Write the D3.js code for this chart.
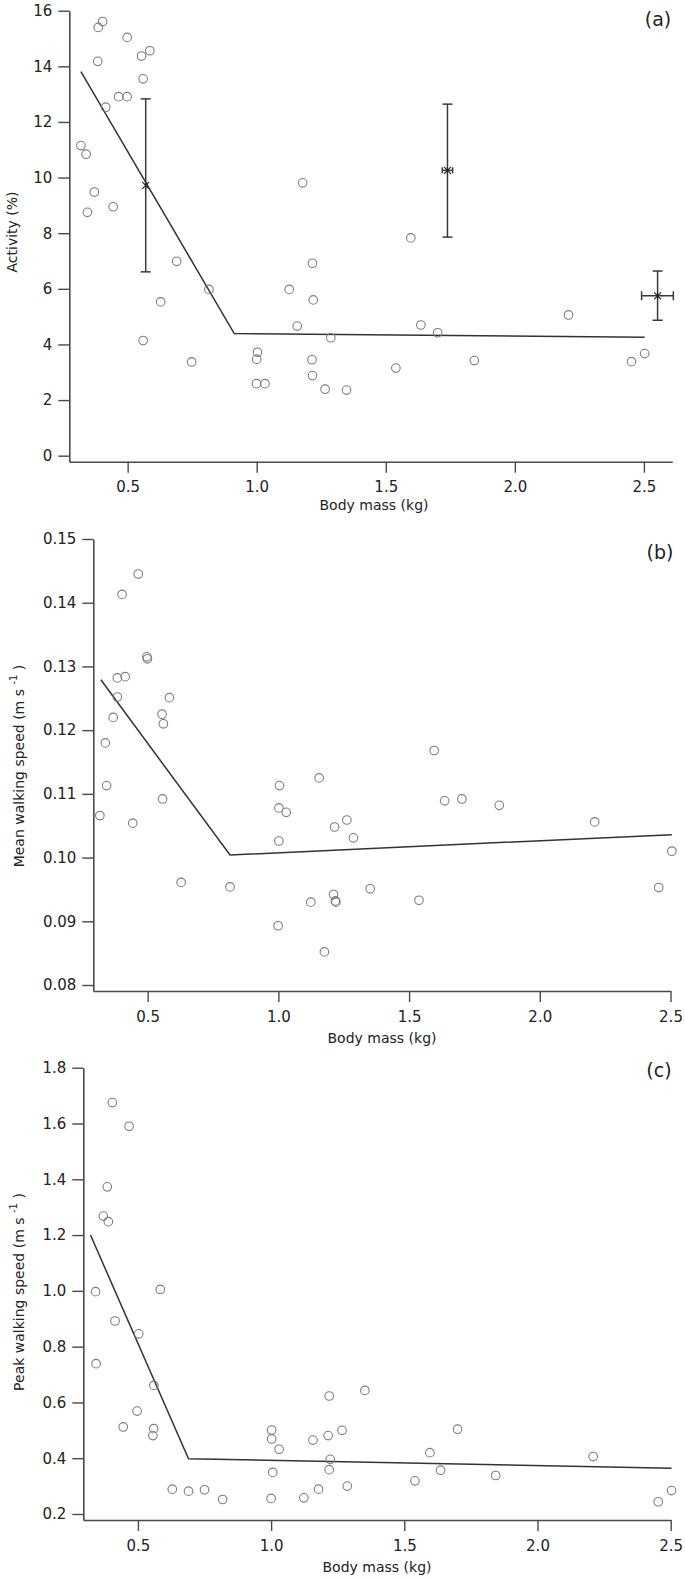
<!DOCTYPE html>
<html><head><meta charset="utf-8">
<script src="https://cdn.jsdelivr.net/npm/d3@7"></script>
<style>
body{margin:0;background:#fff}
svg{display:block}
text{font-family:"DejaVu Sans",Verdana,sans-serif;fill:#222}
</style>
</head><body>
<svg id="chart" width="685" height="1580"></svg>
<script>
// ---------- data ----------
const xTickValues = [0.5, 1.0, 1.5, 2.0, 2.5];
const activityTicks = [0, 2, 4, 6, 8, 10, 12, 14, 16];
const meanSpeedTicks = [0.08, 0.09, 0.10, 0.11, 0.12, 0.13, 0.14, 0.15];
const peakSpeedTicks = [0.2, 0.4, 0.6, 0.8, 1.0, 1.2, 1.4, 1.6, 1.8];

// (a) activity
const activityMass = [0.319,0.339,0.371,0.344,0.444,0.386,0.403,0.384,0.498,0.554,0.586,0.560,0.465,0.498,0.415,1.178,0.690,0.815,0.628,0.560,0.748,1.003,1.000,0.999,1.032,1.126,1.157,1.216,1.219,1.214,1.216,1.265,1.287,1.348,1.597,1.636,1.701,1.539,1.843,2.208,2.452,2.503];
const activityPct  = [11.15,10.84,9.48,8.75,8.95,15.40,15.61,14.18,15.04,14.37,14.56,13.55,12.91,12.91,12.53,9.81,6.99,5.98,5.53,4.14,3.37,3.72,3.47,2.59,2.59,5.98,4.66,6.92,5.60,3.45,2.88,2.39,4.24,2.36,7.83,4.70,4.42,3.15,3.42,5.06,3.38,3.67];
const activityFitMass = [0.319, 0.913, 2.503];
const activityFitVal  = [13.81, 4.39, 4.26];
// summary points with error bars in (a)
const errMass   = [0.570, 1.739, 2.553];
const errMassLo = [0.570, 1.719, 2.491];
const errMassHi = [0.570, 1.759, 2.614];
const errAct    = [9.72, 10.26, 5.75];
const errActLo  = [6.61, 7.86, 4.87];
const errActHi  = [12.83, 12.64, 6.64];

// (b) mean walking speed
const meanMass  = [0.464,0.402,0.497,0.499,0.384,0.414,0.384,0.583,0.368,0.555,0.560,0.338,1.156,0.343,0.317,0.443,0.557,0.628,0.815,1.004,1.002,1.030,1.002,0.999,1.124,1.211,1.218,1.220,1.176,1.215,1.262,1.287,1.351,1.538,1.596,1.636,1.702,1.845,2.210,2.455,2.505];
const meanSpeed = [0.1445,0.1413,0.1315,0.1312,0.1282,0.1284,0.1252,0.1251,0.1220,0.1225,0.1210,0.1180,0.1125,0.1113,0.1066,0.1054,0.1092,0.0961,0.0954,0.1113,0.1078,0.1071,0.1026,0.0893,0.0930,0.0942,0.0932,0.0930,0.0852,0.1048,0.1059,0.1031,0.0951,0.0933,0.1168,0.1089,0.1092,0.1082,0.1056,0.0953,0.1010];
const meanFitMass = [0.321, 0.815, 2.505];
const meanFitVal  = [0.1279, 0.1004, 0.1036];

// (c) peak walking speed
const peakMass  = [0.404,0.467,0.385,0.370,0.389,0.341,0.584,0.414,0.503,0.343,0.560,0.497,0.445,0.559,0.556,0.629,0.690,0.750,0.818,1.002,1.002,1.030,1.006,1.000,1.123,1.178,1.157,1.214,1.218,1.266,1.222,1.218,1.286,1.352,1.700,1.596,1.636,1.843,1.540,2.209,2.503,2.453];
const peakSpeed = [1.675,1.590,1.373,1.268,1.248,0.997,1.005,0.892,0.846,0.739,0.661,0.569,0.512,0.506,0.481,0.289,0.282,0.287,0.252,0.501,0.469,0.432,0.349,0.256,0.258,0.289,0.465,0.481,0.623,0.500,0.396,0.359,0.300,0.643,0.504,0.420,0.357,0.338,0.319,0.406,0.284,0.244];
const peakFitMass = [0.322, 0.690, 2.503];
const peakFitVal  = [1.200, 0.398, 0.364];

// ---------- drawing ----------
const svg = d3.select("#chart");
const AX = "#4a4a4a";

function panel(o) {
  const g = svg.append("g");
  const x = d3.scaleLinear().domain(o.xDomain).range(o.xRange);
  const y = d3.scaleLinear().domain(o.yDomain).range(o.yRange);
  const x0 = o.xRange[0], yb = o.yRange[0];

  const xa = g.append("g").attr("transform", `translate(0,${yb})`)
    .call(d3.axisBottom(x).tickValues(xTickValues).tickFormat(d3.format(".1f"))
      .tickSizeInner(11).tickSizeOuter(0).tickPadding(9));
  const ya = g.append("g").attr("transform", `translate(${x0},0)`)
    .call(d3.axisLeft(y).tickValues(o.yTicks).tickFormat(o.yFmt)
      .tickSizeInner(11).tickSizeOuter(0).tickPadding(6));
  [xa, ya].forEach(a => {
    a.selectAll("path.domain").attr("stroke", AX).attr("stroke-width", 1.6);
    a.selectAll(".tick line").attr("stroke", AX).attr("stroke-width", 1.4);
    a.selectAll(".tick text").style("font-size", "15px").attr("fill", "#222");
  });

  // fit line
  const line = d3.line().x(d => x(d[0])).y(d => y(d[1]));
  g.append("path").datum(d3.zip(o.fitX, o.fitY)).attr("d", line)
    .attr("fill", "none").attr("stroke", "#333").attr("stroke-width", 1.5);

  // points
  g.selectAll("circle.pt").data(d3.zip(o.px, o.py)).join("circle")
    .attr("class", "pt").attr("cx", d => x(d[0])).attr("cy", d => y(d[1]))
    .attr("r", 4.3).attr("fill", "none").attr("stroke", "#7d7d7d").attr("stroke-width", 1.1);

  // labels
  g.append("text").attr("x", o.xTitlePos[0]).attr("y", o.xTitlePos[1])
    .attr("text-anchor", "middle").style("font-size", "14px").text("Body mass (kg)");
  const yt = g.append("text")
    .attr("transform", `translate(${o.yTitlePos[0]},${o.yTitlePos[1]}) rotate(-90)`)
    .attr("text-anchor", "middle").style("font-size", "14px");
  if (o.ySup) {
    yt.append("tspan").text(o.yTitle);
    yt.append("tspan").attr("dy", -7).style("font-size", "10px").text("-1");
    yt.append("tspan").attr("dy", 7).text(" )");
  } else {
    yt.text(o.yTitle);
  }
  g.append("text").attr("x", o.tagPos[0]).attr("y", o.tagPos[1])
    .attr("text-anchor", "middle").style("font-size", "19px").text(o.tag);
  return {g, x, y};
}

// (a)
const pa = panel({
  xDomain: [0.274, 2.61], xRange: [69.3, 672.3],
  yDomain: [-0.216, 16], yRange: [461.7, 10.7],
  yTicks: activityTicks, yFmt: d3.format("d"),
  px: activityMass, py: activityPct, fitX: activityFitMass, fitY: activityFitVal,
  xTitlePos: [374, 510], yTitlePos: [17, 232], yTitle: "Activity (%)",
  tagPos: [658, 26], tag: "(a)"
});
// error bars for (a)
{
  const {g, x, y} = pa;
  const eb = g.append("g").attr("stroke", "#3a3a3a").attr("stroke-width", 1.5).attr("fill", "none");
  errMass.forEach((m, i) => {
    const cx = x(m), cy = y(errAct[i]);
    const top = y(errActHi[i]), bot = y(errActLo[i]);
    eb.append("line").attr("x1", cx).attr("x2", cx).attr("y1", top).attr("y2", bot);
    eb.append("line").attr("x1", cx - 5).attr("x2", cx + 5).attr("y1", top).attr("y2", top);
    eb.append("line").attr("x1", cx - 5).attr("x2", cx + 5).attr("y1", bot).attr("y2", bot);
    const l = x(errMassLo[i]), r = x(errMassHi[i]);
    if (r - l > 1) {
      const hc = (r - l) > 20 ? 4.5 : 3;
      eb.append("line").attr("x1", l).attr("x2", r).attr("y1", cy).attr("y2", cy);
      eb.append("line").attr("x1", l).attr("x2", l).attr("y1", cy - hc).attr("y2", cy + hc);
      eb.append("line").attr("x1", r).attr("x2", r).attr("y1", cy - hc).attr("y2", cy + hc);
    }
    // asterisk marker
    const s = 3.5;
    const m2 = g.append("g").attr("stroke", "#222").attr("stroke-width", 1.1);
    m2.append("line").attr("x1", cx - s).attr("x2", cx + s).attr("y1", cy - s).attr("y2", cy + s);
    m2.append("line").attr("x1", cx - s).attr("x2", cx + s).attr("y1", cy + s).attr("y2", cy - s);
    m2.append("line").attr("x1", cx).attr("x2", cx).attr("y1", cy - s).attr("y2", cy + s);
  });
}

// (b)
panel({
  xDomain: [0.292, 2.5], xRange: [93.3, 670.5],
  yDomain: [0.07906, 0.15], yRange: [991, 539],
  yTicks: meanSpeedTicks, yFmt: d3.format(".2f"),
  px: meanMass, py: meanSpeed, fitX: meanFitMass, fitY: meanFitVal,
  xTitlePos: [382, 1043], yTitlePos: [24, 766], yTitle: "Mean walking speed (m s ", ySup: true,
  tagPos: [660, 559], tag: "(b)"
});

// (c)
panel({
  xDomain: [0.295, 2.5], xRange: [83.3, 670.7],
  yDomain: [0.1785, 1.8], yRange: [1520, 1067.7],
  yTicks: peakSpeedTicks, yFmt: d3.format(".1f"),
  px: peakMass, py: peakSpeed, fitX: peakFitMass, fitY: peakFitVal,
  xTitlePos: [377, 1572], yTitlePos: [23.5, 1292], yTitle: "Peak walking speed (m s ", ySup: true,
  tagPos: [659, 1077], tag: "(c)"
});
</script>
</body></html>
